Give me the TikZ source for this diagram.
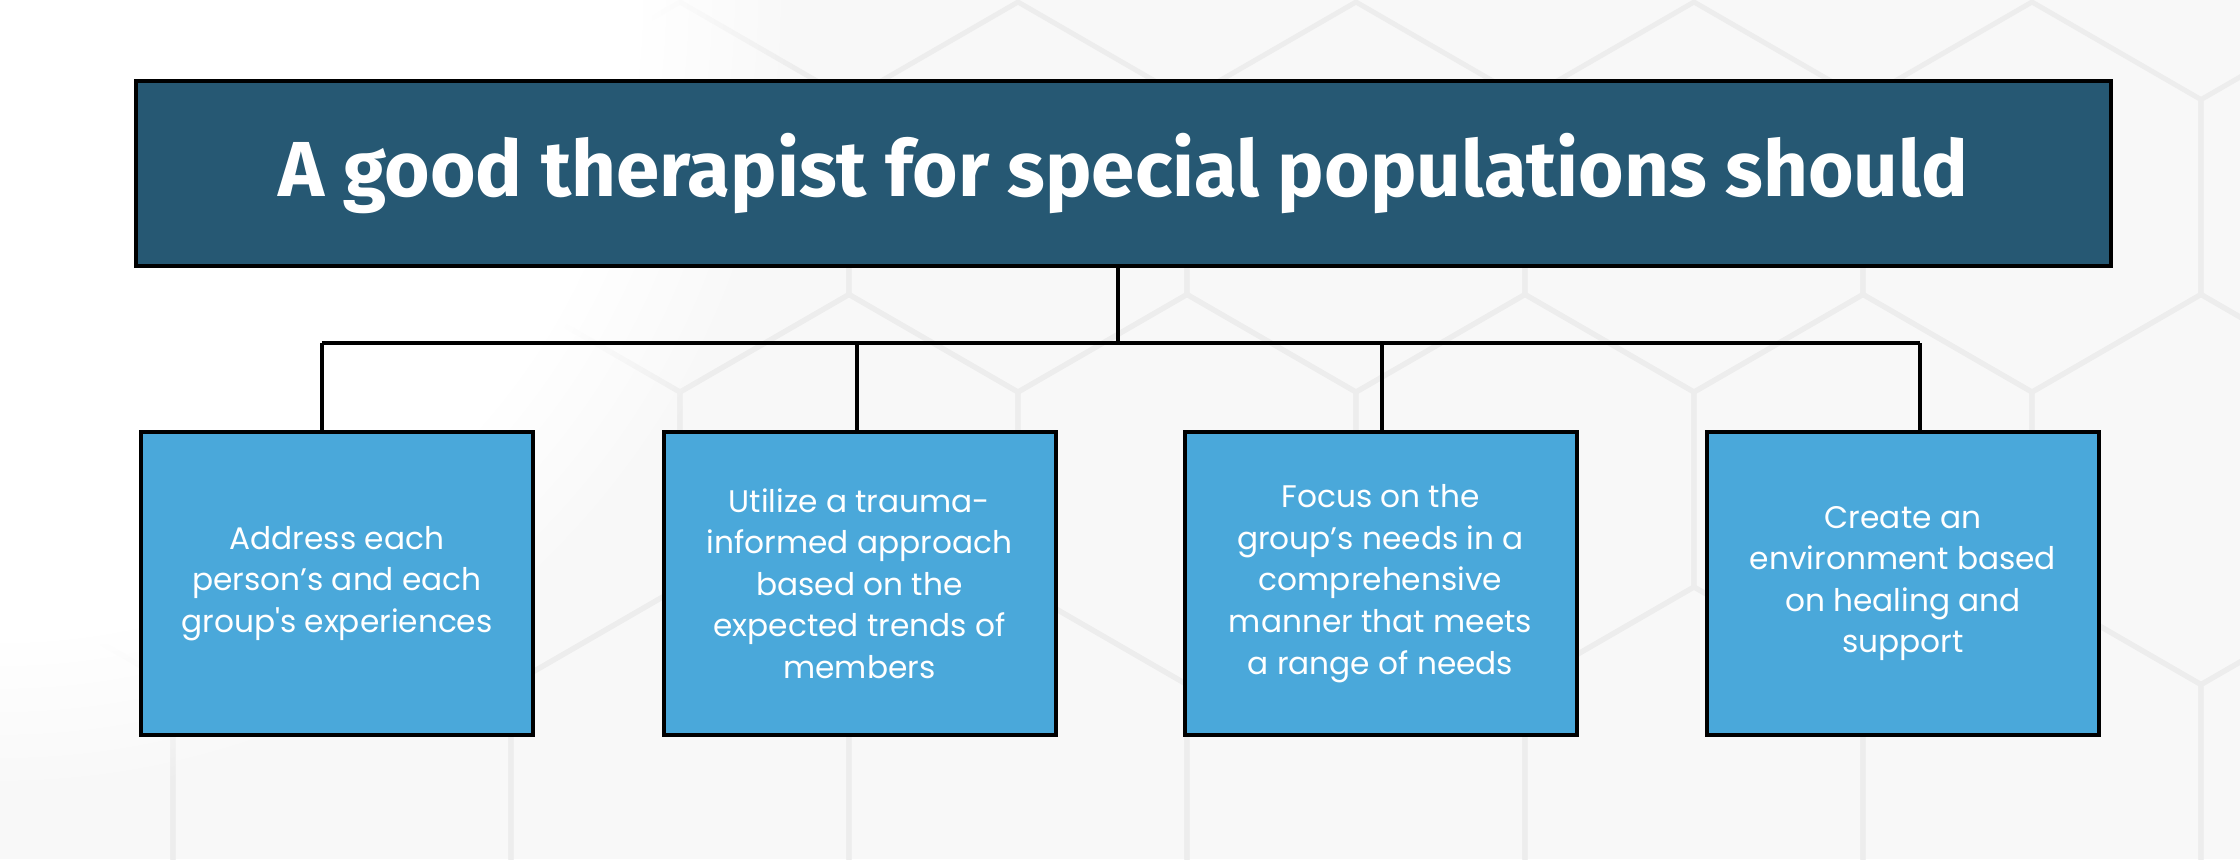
\documentclass[tikz,border=0pt]{standalone}
\usepackage{fontspec}
\usetikzlibrary{fadings}
\newfontfamily\boxfont{Poppins}
\newfontfamily\titlefont{Fira Sans}
\definecolor{titlebg}{HTML}{265873}
\definecolor{boxbg}{HTML}{4AA8DA}
\definecolor{hexline}{HTML}{EDEDED}
\definecolor{pagebg}{HTML}{F8F8F8}
\tikzset{
  titlebox/.style={draw=black, line width=2pt, fill=titlebg, minimum width=987.5pt,
    minimum height=92.5pt, inner sep=0pt, text=white,
    font=\titlefont\bfseries\fontsize{39}{46}\selectfont},
  itembox/.style={draw=black, line width=2pt, fill=boxbg, minimum width=196pt,
    minimum height=151.5pt, inner sep=0pt, text=white, align=center,
    font=\boxfont\fontsize{15.6}{20.8}\selectfont},
  link/.style={draw=black, line width=2pt},
  hexedge/.style={draw=hexline, line width=2.5pt}
}
\begin{document}
\begin{tikzpicture}[x=0.5pt,y=-0.5pt]
\useasboundingbox (0,0) rectangle (2240,859);
\fill[pagebg] (0,0) rectangle (2240,859);
\begin{scope}
\clip (0,0) rectangle (2240,859);
\foreach \yy/\off in {2/0, 294.5/169, 587/0, 879.5/169}{
  \foreach \k in {-3,...,5}{
    \draw[hexedge] ({680+338*\k+\off},\yy) ++(30:195) -- ++(90:195) -- ++(150:195) -- ++(210:195) -- ++(270:195) -- ++(330:195) -- cycle;
  }
}
\fill[white, path fading=circle with fuzzy edge 20 percent] (0,0) circle [radius=800];
\end{scope}
\node[titlebox] (title) at (1123.5,173.5) {A good therapist for special populations should};
\node[itembox] (b1) at (337,583.5) {Address each\\person’s and each\\group's experiences};
\node[itembox] (b2) at (859.5,583.5) {Utilize a trauma-\\informed approach\\based on the\\expected trends of\\members};
\node[itembox] (b3) at (1380.5,583.5) {Focus on the\\group’s needs in a\\comprehensive\\manner that meets\\a range of needs};
\node[itembox] (b4) at (1903,583.5) {Create an\\environment based\\on healing and\\support};
\coordinate (j) at (1118,343);
\coordinate (h1) at (322,343);
\coordinate (h2) at (857,343);
\coordinate (h3) at (1382,343);
\coordinate (h4) at (1920,343);
\draw[link] (title.south -| j) -- (j);
\draw[link] (h1) -- (h4);
\draw[link] (h1) -- (h1 |- b1.north);
\draw[link] (h2) -- (h2 |- b2.north);
\draw[link] (h3) -- (h3 |- b3.north);
\draw[link] (h4) -- (h4 |- b4.north);
\end{tikzpicture}
\end{document}
